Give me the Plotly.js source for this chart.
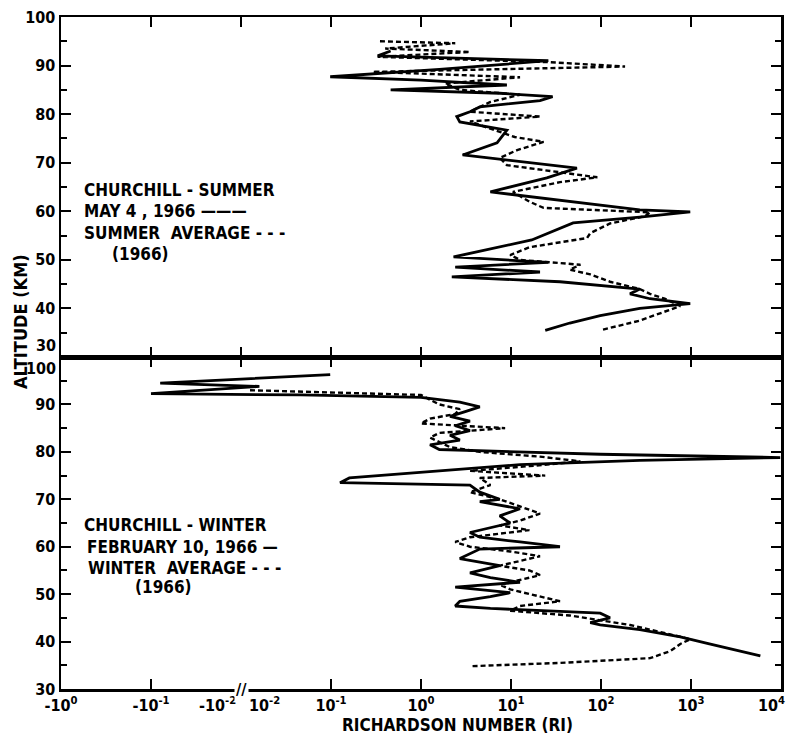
<!DOCTYPE html>
<html>
<head>
<meta charset="utf-8">
<script src="https://cdn.plot.ly/plotly-3.0.1.min.js"></script>
<style>html,body{margin:0;padding:0;background:#fff;}#chart{width:788px;height:735px;}</style>
</head>
<body>
<div id="chart"></div>
<script>
// ---- Data (Richardson number Ri vs altitude km) ----
const summerAlt = [93.0,92.0,91.0,89.2,87.7,87.0,86.0,85.0,84.3,83.6,82.8,81.5,80.5,79.5,78.4,76.7,74.1,71.6,68.9,66.9,64.0,60.3,59.9,58.8,57.6,54.1,50.6,49.5,48.5,47.5,46.5,45.5,44.0,43.0,42.0,41.0,40.0,38.5,37.0,35.5];
const summerRi  = [0.46,0.33,26,1.6,0.098,1.0,9.0,0.46,7.5,29,21,4.5,3.5,2.5,2.7,9.0,7.0,2.9,54,25,5.9,270,980,270,49,17,2.3,26,2.4,21,2.2,35,270,210,350,980,270,98,45,24];

const summerAvgAlt = [95.0,94.6,93.5,92.8,91.8,90.7,89.8,89.2,88.7,87.6,86.3,85.0,84.0,82.5,81.5,80.5,79.5,78.5,77.0,75.3,74.3,72.6,71.0,69.5,67.0,66.0,64.0,62.0,60.7,59.8,59.0,57.5,55.5,54.5,52.6,51.0,50.0,49.0,48.0,47.0,45.5,44.0,43.0,42.0,40.5,39.0,37.5,36.0,35.5];
const summerAvgRi  = [0.35,2.4,0.40,3.5,0.33,27,185,7.5,0.29,12.6,1.85,2.7,12.6,5.9,4.5,3.5,21,3.5,5.9,11,23,11.7,7.5,9.0,91,35,10.5,16,23,350,310,126,76,70,16,9.8,12.6,59,45,76,126,270,350,510,760,460,270,126,98];

const winterAlt = [96.3,95.8,94.5,93.8,92.3,92.0,91.5,90.5,89.5,88.5,87.5,86.5,85.5,84.5,83.5,82.5,81.5,80.5,79.5,78.8,78.2,77.3,76.0,74.5,73.5,73.0,71.5,70.0,69.5,68.0,66.5,65.0,63.0,62.0,61.0,60.0,59.5,58.5,57.5,56.0,54.5,53.5,52.5,51.5,51.0,50.3,49.5,48.5,47.5,47.0,46.0,45.0,44.0,43.5,42.5,41.0,39.5,38.5,37.0];
const winterRi  = [0.098,0.027,-0.079,0.016,-0.10,0.046,1.0,2.7,4.5,3.1,2.1,3.5,2.4,3.5,2.1,2.7,1.26,1.6,98,9800,270,12.6,1.6,0.16,0.126,3.5,4.5,7.5,4.5,12.6,7.5,9.8,3.5,4.5,12.6,35,4.5,3.5,2.7,7.5,3.5,5.9,12.6,2.4,4.5,9.8,5.9,2.7,2.4,5.9,98,126,76,98,270,760,1600,2700,5900];

const winterAvgAlt = [93.0,92.0,91.0,90.0,89.0,88.0,87.0,86.0,85.0,84.0,83.0,82.0,81.0,80.0,79.0,78.0,77.0,76.0,75.0,74.5,73.0,71.5,70.0,68.5,67.0,65.5,64.5,63.5,62.0,61.0,60.0,59.0,58.0,57.0,56.0,55.0,54.0,53.0,52.0,51.0,50.0,48.5,47.5,46.5,45.5,44.5,43.5,42.0,40.5,39.5,38.0,36.5,35.5,34.8];
const winterAvgRi  = [0.0126,1.0,1.26,1.6,2.7,2.4,1.26,1.0,8.6,1.6,1.26,1.6,2.1,4.5,21,59,16,3.5,24,4.5,5.9,3.5,7.5,12.6,21,12.6,7.5,16,3.5,2.4,3.5,9.8,21,12.6,7.5,16,21,12.6,7.5,9.8,16,35,12.6,9.8,45,98,210,460,980,760,590,350,35,3.5];

// x tick labels (symmetric log scale with break at |Ri| = 10^-2)
const xTickVals = [-1, -0.1, 0.01, 0.1, 1, 10, 100, 1000, 10000];
const xTickText = ['-10<sup>0</sup>','-10<sup>-1</sup>',' ','10<sup>-1</sup>','10<sup>0</sup>','10<sup>1</sup>','10<sup>2</sup>','10<sup>3</sup>',' '];

// scale transform: negative branch -10^0..-10^-2 then positive 10^-2..10^4
const toU = r => r > 0 ? Math.log10(r) + 4 : -Math.log10(-r);

const FONT = '"DejaVu Sans Condensed", "DejaVu Sans", sans-serif';
const solid = {color:'#000', width:2.8};
const dashed = {color:'#000', width:2.4, dash:'5px,3px'};

const traces = [
  {x: summerRi.map(toU), y: summerAlt, xaxis:'x2', yaxis:'y', mode:'lines', line:solid, hoverinfo:'skip'},
  {x: summerAvgRi.map(toU), y: summerAvgAlt, xaxis:'x2', yaxis:'y', mode:'lines', line:dashed, hoverinfo:'skip'},
  {x: winterRi.map(toU), y: winterAlt, xaxis:'x', yaxis:'y2', mode:'lines', line:solid, hoverinfo:'skip'},
  {x: winterAvgRi.map(toU), y: winterAvgAlt, xaxis:'x', yaxis:'y2', mode:'lines', line:dashed, hoverinfo:'skip'}
];

const tickFont = {family: FONT, size: 16, color:'#000', weight: 'bold'};
const yTop = [40,50,60,70,80,90,100];
const yBot = [30,40,50,60,70,80,90];

const xBase = {
  range:[0,8], showgrid:false, zeroline:false, showline:true, linecolor:'#000', linewidth:2.5,
  ticks:'inside', ticklen:10, tickwidth:2, tickcolor:'#000', mirror:'ticks',
  tickmode:'array', tickvals: xTickVals.map(toU), ticktext: xTickText, tickfont: tickFont
};
const yBase = {
  range:[30,100], showgrid:false, zeroline:false, showline:true, linecolor:'#000', linewidth:2.5,
  ticks:'inside', ticklen:10, tickwidth:2, tickcolor:'#000', mirror:'ticks', tickfont: tickFont,
  minor:{tickmode:'linear', tick0:0, dtick:5, ticks:'inside', ticklen:6, tickwidth:2, tickcolor:'#000'}
};

const annFont = {family: FONT, size: 17, color:'#000', weight:'bold'};
const ann = (text, x, y, yref, extra) => Object.assign({text, x, y, xref:'paper', yref, showarrow:false, xanchor:'left', yanchor:'middle', font: annFont}, extra||{});

const layout = {
  width:788, height:735,
  margin:{l:61, r:7, t:17, b:46},
  paper_bgcolor:'#fff', plot_bgcolor:'#fff',
  showlegend:false,
  xaxis: Object.assign({}, xBase, {anchor:'y2', domain:[0,1]}),
  xaxis2: Object.assign({}, xBase, {anchor:'y', domain:[0,1], matches:'x', showticklabels:false}),
  yaxis: Object.assign({}, yBase, {anchor:'x2', domain:[0.494,1], tickmode:'array', tickvals:[30].concat(yTop), ticktext:[' '].concat(yTop.map(String))}),
  yaxis2: Object.assign({}, yBase, {anchor:'x', domain:[0,0.494], tickmode:'array', tickvals:yBot.concat([100]), ticktext:yBot.map(String).concat([' '])}),
  annotations: [
    // divider labels
    {text:'30', x:0, y:30, xref:'paper', yref:'y', xanchor:'right', yanchor:'bottom', xshift:-3, showarrow:false, font:tickFont},
    {text:'100', x:0, y:100, xref:'paper', yref:'y2', xanchor:'right', yanchor:'top', xshift:-3, showarrow:false, font:tickFont},
    // break labels on x and right-edge label
    {text:'-10<sup>-2</sup>', x: toU(0.01), y:0, xref:'x', yref:'paper', xanchor:'right', yanchor:'top', xshift:-3, yshift:-3, showarrow:false, font:tickFont},
    {text:'10<sup>-2</sup>', x: toU(0.01), y:0, xref:'x', yref:'paper', xanchor:'left', yanchor:'top', xshift:6, yshift:-3, showarrow:false, font:tickFont},
    {text:'10<sup>4</sup>', x: toU(10000), y:0, xref:'x', yref:'paper', xanchor:'right', yanchor:'top', xshift:6, yshift:-3, showarrow:false, font:tickFont},
    {text:'//', x: toU(0.01), y:0, xref:'x', yref:'paper', xanchor:'center', yanchor:'middle', showarrow:false, font:{family:FONT, size:16, color:'#000', weight:'bold'}, bgcolor:'#fff'},
    // axis titles
    {text:'RICHARDSON NUMBER (RI)', x:0.55, y:0, xref:'paper', yref:'paper', xanchor:'center', yanchor:'top', yshift:-24, showarrow:false, font:{family:FONT, size:17, color:'#000', weight:'bold'}},
    {text:'ALTITUDE (KM)', x:0, y:0.546, xref:'paper', yref:'paper', xanchor:'center', yanchor:'middle', xshift:-41, textangle:-90, showarrow:false, font:{family:FONT, size:18, color:'#000', weight:'bold'}},
    // panel labels
    ann('CHURCHILL - SUMMER', 0.029, 64.3, 'y'),
    ann('MAY 4 , 1966 ———', 0.029, 60.0, 'y'),
    ann('SUMMER  AVERAGE - - -', 0.029, 55.5, 'y'),
    ann('(1966)', 0.068, 51.3, 'y'),
    ann('CHURCHILL - WINTER', 0.029, 64.5, 'y2'),
    ann('FEBRUARY 10, 1966 —', 0.033, 60.0, 'y2'),
    ann('WINTER  AVERAGE - - -', 0.035, 55.5, 'y2'),
    ann('(1966)', 0.10, 51.5, 'y2')
  ]
};

Plotly.newPlot('chart', traces, layout, {staticPlot:true, displayModeBar:false});
</script>
</body>
</html>
